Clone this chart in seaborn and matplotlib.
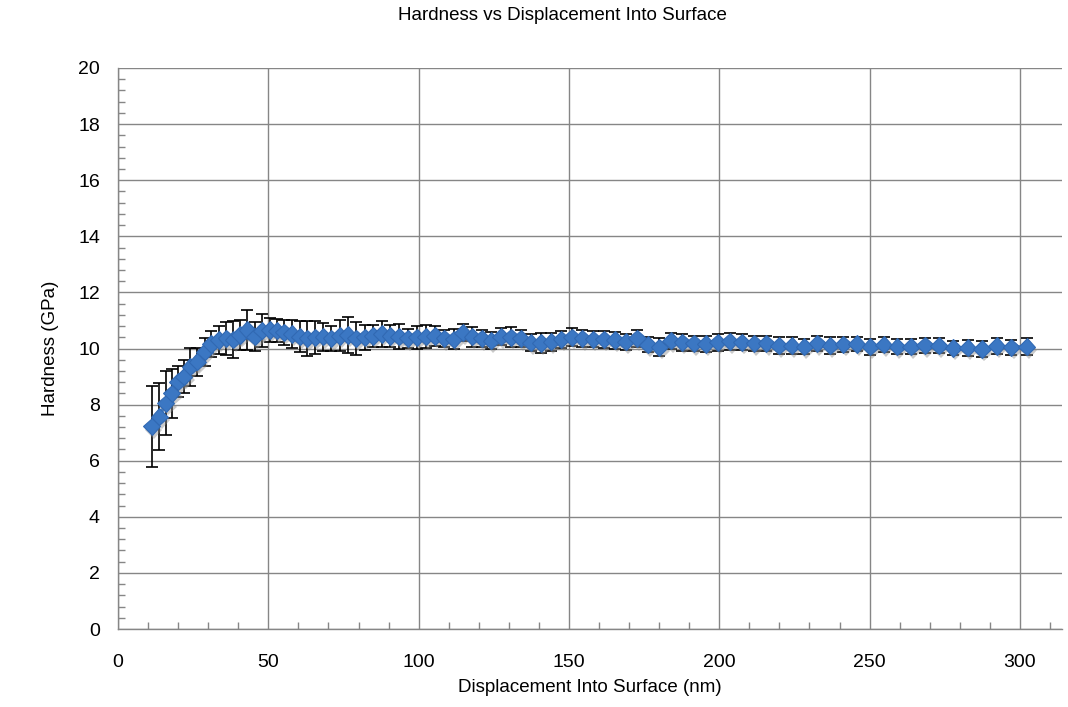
import matplotlib
matplotlib.use("Agg")
import matplotlib.pyplot as plt
import matplotlib.patheffects as pe
from matplotlib.ticker import MultipleLocator
import seaborn as sns
import pandas as pd

# ---- data ----
displacement_nm = [11.2, 13.8, 15.9, 17.9, 20.0, 21.9, 24.0, 26.4, 28.8, 30.9,
                   33.5, 36.0, 38.4, 40.6, 43.0, 45.5, 47.8, 50.4, 52.8, 55.2,
                   57.8, 60.4, 63.0, 65.6, 68.3, 71.0, 73.7, 76.4, 79.2, 82.0,
                   84.8, 87.7, 90.6, 93.5, 96.4, 99.4, 102.4, 105.4, 108.5, 111.6,
                   114.7, 117.8, 121.0, 124.2, 127.4, 130.7, 134.0, 137.3, 140.7, 144.1,
                   147.5, 151.0, 154.5, 158.1, 161.7, 165.3, 168.9, 172.6, 176.3, 180.1,
                   183.9, 187.7, 191.6, 195.5, 199.5, 203.5, 207.5, 211.6, 215.7, 219.9,
                   224.1, 228.3, 232.6, 236.9, 241.3, 245.7, 250.2, 254.7, 259.2, 263.8,
                   268.4, 273.1, 277.8, 282.6, 287.4, 292.3, 297.2, 302.2]

hardness_gpa = [7.22, 7.57, 8.05, 8.40, 8.82, 9.00, 9.35, 9.53, 9.89, 10.16,
                10.30, 10.36, 10.32, 10.48, 10.66, 10.42, 10.64, 10.66, 10.64, 10.58,
                10.52, 10.42, 10.36, 10.40, 10.42, 10.36, 10.45, 10.48, 10.36, 10.40,
                10.45, 10.52, 10.45, 10.42, 10.36, 10.40, 10.42, 10.45, 10.36, 10.33,
                10.56, 10.42, 10.36, 10.28, 10.42, 10.40, 10.36, 10.21, 10.20, 10.24,
                10.33, 10.40, 10.36, 10.33, 10.33, 10.30, 10.24, 10.36, 10.14, 10.04,
                10.28, 10.22, 10.18, 10.16, 10.22, 10.25, 10.22, 10.18, 10.18, 10.10,
                10.10, 10.07, 10.18, 10.10, 10.15, 10.16, 10.06, 10.14, 10.07, 10.07,
                10.11, 10.10, 10.02, 10.03, 9.98, 10.09, 10.04, 10.07]

hardness_err = [1.43, 1.20, 1.15, 0.86, 0.55, 0.60, 0.67, 0.50, 0.50, 0.45,
                0.50, 0.60, 0.66, 0.55, 0.73, 0.52, 0.60, 0.44, 0.40, 0.45,
                0.50, 0.55, 0.62, 0.58, 0.50, 0.45, 0.55, 0.65, 0.60, 0.45,
                0.40, 0.45, 0.40, 0.45, 0.35, 0.40, 0.40, 0.35, 0.30, 0.35,
                0.30, 0.35, 0.30, 0.30, 0.30, 0.35, 0.30, 0.30, 0.35, 0.32,
                0.30, 0.32, 0.30, 0.28, 0.30, 0.30, 0.28, 0.30, 0.28, 0.32,
                0.28, 0.30, 0.28, 0.28, 0.30, 0.32, 0.28, 0.28, 0.28, 0.30,
                0.30, 0.28, 0.28, 0.30, 0.26, 0.26, 0.28, 0.26, 0.26, 0.26,
                0.28, 0.26, 0.26, 0.28, 0.28, 0.28, 0.26, 0.30]

x_ticks = [0, 50, 100, 150, 200, 250, 300]
y_ticks = [0, 2, 4, 6, 8, 10, 12, 14, 16, 18, 20]

title = "Hardness vs Displacement Into Surface"
x_label = "Displacement Into Surface (nm)"
y_label = "Hardness (GPa)"

df = pd.DataFrame({"x": displacement_nm, "y": hardness_gpa, "err": hardness_err})

# ---- style ----
sns.set_theme(style="white")
plt.rcParams["font.family"] = ["Liberation Sans", "DejaVu Sans"]

grid_c = "#868686"
blue = "#3B77C3"

fig = plt.figure(figsize=(10.68, 7.07), dpi=100)
ax = fig.add_axes([118 / 1068, 1 - 629 / 707, (1062 - 118) / 1068, (629 - 68) / 707])

ax.errorbar(df["x"], df["y"], yerr=df["err"], fmt="none", ecolor="black",
            elinewidth=1.2, capsize=4, capthick=1.2, zorder=2)

# connecting line
sns.lineplot(data=df, x="x", y="y", ax=ax, color=blue, linewidth=2.4, zorder=3)
# diamond markers with a soft drop shadow
sns.lineplot(data=df, x="x", y="y", ax=ax, color=blue, linestyle="",
             marker="D", markersize=8.8, markeredgecolor="#3169B3",
             markeredgewidth=0.8, markerfacecolor=blue, zorder=4,
             path_effects=[pe.SimplePatchShadow(offset=(1.5, -2.5), shadow_rgbFace="#8a8a8a", alpha=0.45),
                           pe.Normal()])

ax.set_xlim(0, 314)
ax.set_ylim(0, 20)
ax.set_xticks(x_ticks)
ax.set_yticks(y_ticks)
ax.xaxis.set_minor_locator(MultipleLocator(10))
ax.yaxis.set_minor_locator(MultipleLocator(0.4))
ax.grid(True, which="major", color=grid_c, linewidth=1.0)
ax.set_axisbelow(True)

for s in ["top", "right"]:
    ax.spines[s].set_visible(False)
for s in ["left", "bottom"]:
    ax.spines[s].set_color(grid_c)
    ax.spines[s].set_linewidth(1.0)

ax.tick_params(axis="both", which="major", length=0, labelsize=14, labelcolor="black")
ax.tick_params(axis="x", which="major", pad=18)
ax.tick_params(axis="y", which="major", pad=13)
ax.tick_params(axis="both", which="minor", direction="in", length=5, width=1.0, color=grid_c,
               bottom=True, left=True)

ax.set_xlabel(x_label, fontsize=13.5, color="black", labelpad=6)
ax.set_ylabel(y_label, fontsize=13.5, color="black", labelpad=14)

fig.text(562 / 1068, 1 - 15 / 707, title, ha="center", va="center", fontsize=13.5, color="black")

fig.savefig("out.png", dpi=100, facecolor="white")
